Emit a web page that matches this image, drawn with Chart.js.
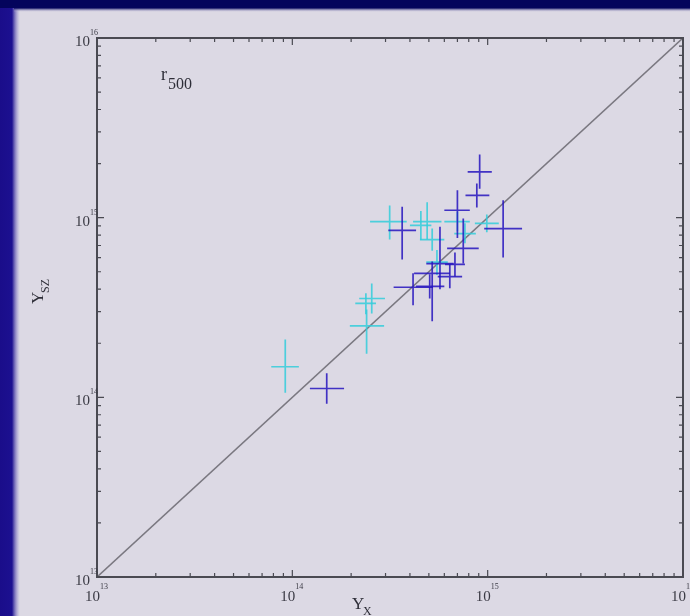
<!DOCTYPE html>
<html>
<head>
<meta charset="utf-8">
<script src="https://cdn.jsdelivr.net/npm/chart.js@4.4.1/dist/chart.umd.min.js"></script>
<style>
  html, body { margin: 0; padding: 0; background: #0a0a66; }
  #wrap { width: 690px; height: 616px; }
</style>
</head>
<body>
<div id="wrap"><canvas id="chart" width="690" height="616"></canvas></div>
<script>
// axis range and decade labels
const decades = [13, 14, 15, 16];

// blue clusters: Y_X, Y_SZ and error bar ends
const blueX   = [9.1e14, 8.8e14, 7.0e14, 3.65e14, 1.2e15, 7.5e14, 6.8e14, 5.2e14, 4.15e14, 5.05e14, 5.7e14, 6.4e14, 1.5e14];
const blueXLo = [7.9e14, 7.7e14, 6.0e14, 3.1e14, 9.6e14, 6.2e14, 6.05e14, 4.2e14, 3.3e14, 4.3e14, 4.85e14, 5.55e14, 1.23e14];
const blueXHi = [1.05e15, 1.02e15, 8.1e14, 4.3e14, 1.5e15, 9.0e14, 7.65e14, 6.4e14, 5.25e14, 6.0e14, 6.7e14, 7.4e14, 1.84e14];
const blueY   = [1.8e15, 1.33e15, 1.1e15, 8.5e14, 8.7e14, 6.75e14, 5.5e14, 4.9e14, 4.1e14, 4.15e14, 5.55e14, 4.7e14, 1.12e14];
const blueYLo = [1.45e15, 1.14e15, 7.7e14, 5.85e14, 6.0e14, 5.55e14, 4.7e14, 2.65e14, 3.25e14, 3.55e14, 4.0e14, 4.05e14, 9.2e13];
const blueYHi = [2.25e15, 1.55e15, 1.42e15, 1.15e15, 1.25e15, 9.9e14, 6.4e14, 5.7e14, 4.9e14, 4.85e14, 8.9e14, 5.5e14, 1.36e14];

// cyan clusters
const cyanX   = [9.2e13, 2.4e14, 2.55e14, 2.38e14, 3.15e14, 4.9e14, 4.55e14, 5.2e14, 7.0e14, 9.9e14, 7.65e14, 5.5e14];
const cyanXLo = [7.8e13, 1.97e14, 2.2e14, 2.1e14, 2.5e14, 4.15e14, 4.0e14, 4.5e14, 6.0e14, 8.6e14, 6.75e14, 4.85e14];
const cyanXHi = [1.08e14, 2.95e14, 2.98e14, 2.68e14, 3.85e14, 5.8e14, 5.15e14, 6.0e14, 8.1e14, 1.14e15, 8.7e14, 6.25e14];
const cyanY   = [1.48e14, 2.5e14, 3.55e14, 3.33e14, 9.5e14, 9.5e14, 9.05e14, 7.55e14, 9.5e14, 9.3e14, 8.15e14, 5.65e14];
const cyanYLo = [1.06e14, 1.75e14, 2.93e14, 2.9e14, 7.55e14, 7.55e14, 7.5e14, 6.55e14, 8.4e14, 8.3e14, 7.2e14, 4.8e14];
const cyanYHi = [2.1e14, 3.08e14, 4.3e14, 3.8e14, 1.17e15, 1.22e15, 1.09e15, 8.7e14, 1.08e15, 1.04e15, 9.3e14, 6.6e14];

const SERIF = '"Liberation Serif", "DejaVu Serif", serif';
const BLUE = "rgba(38, 20, 190, 0.85)";
const CYAN = "rgba(50, 205, 218, 0.85)";

function makePoints(xs, ys, xlo, xhi, ylo, yhi) {
  return xs.map((x, i) => ({ x: x, y: ys[i], xlo: xlo[i], xhi: xhi[i], ylo: ylo[i], yhi: yhi[i] }));
}

// page background: navy frame with light slide area
const slideBg = {
  id: "slideBg",
  beforeDraw(chart) {
    const ctx = chart.ctx;
    ctx.save();
    ctx.fillStyle = "#dcd9e4";
    ctx.fillRect(0, 0, chart.width, chart.height);
    let g = ctx.createLinearGradient(0, 0, 20, 0);
    g.addColorStop(0, "#1a0d8a");
    g.addColorStop(0.6, "#1c1090");
    g.addColorStop(1, "rgba(150,140,210,0)");
    ctx.fillStyle = g;
    ctx.fillRect(0, 0, 20, chart.height);
    ctx.fillStyle = "#04045c";
    ctx.fillRect(0, 0, chart.width, 8);
    g = ctx.createLinearGradient(0, 8, 0, 12);
    g.addColorStop(0, "#04045c");
    g.addColorStop(1, "rgba(200,196,225,0)");
    ctx.fillStyle = g;
    ctx.fillRect(14, 8, chart.width, 4);
    ctx.restore();
  }
};

// error-bar crosses, frame, log ticks and labels
const decor = {
  id: "decor",
  afterDatasetsDraw(chart) {
    const ctx = chart.ctx;
    const xs = chart.scales.x, ys = chart.scales.y;
    const a = chart.chartArea;

    ctx.save();
    ctx.filter = "blur(0.7px)";
    ctx.lineWidth = 1.7;
    chart.data.datasets.forEach(ds => {
      if (!ds.crosses) return;
      ctx.strokeStyle = ds.borderColor;
      ds.data.forEach(p => {
        const px = xs.getPixelForValue(p.x), py = ys.getPixelForValue(p.y);
        ctx.beginPath();
        ctx.moveTo(xs.getPixelForValue(p.xlo), py);
        ctx.lineTo(xs.getPixelForValue(p.xhi), py);
        ctx.moveTo(px, ys.getPixelForValue(p.ylo));
        ctx.lineTo(px, ys.getPixelForValue(p.yhi));
        ctx.stroke();
      });
    });
    ctx.restore();

    ctx.save();
    ctx.strokeStyle = "#4a4a52";
    ctx.lineWidth = 1.2;
    // minor and major ticks on all four sides
    for (let d = 13; d < 16; d++) {
      for (let m = 1; m <= 9; m++) {
        const v = m * Math.pow(10, d);
        const len = m === 1 ? 7 : 4;
        const px = xs.getPixelForValue(v), py = ys.getPixelForValue(v);
        ctx.beginPath();
        ctx.moveTo(px, a.bottom); ctx.lineTo(px, a.bottom - len);
        ctx.moveTo(px, a.top); ctx.lineTo(px, a.top + len);
        ctx.moveTo(a.left, py); ctx.lineTo(a.left + len, py);
        ctx.moveTo(a.right, py); ctx.lineTo(a.right - len, py);
        ctx.stroke();
      }
    }
    ctx.lineWidth = 2;
    ctx.strokeRect(a.left, a.top, a.right - a.left, a.bottom - a.top);

    // tick labels 10^n
    ctx.fillStyle = "#3a3a44";
    decades.forEach(n => {
      const v = Math.pow(10, n);
      const px = xs.getPixelForValue(v), py = ys.getPixelForValue(v);
      // x axis
      ctx.font = "15px " + SERIF;
      ctx.textAlign = "left";
      ctx.textBaseline = "alphabetic";
      ctx.fillText("10", px - 12, a.bottom + 24);
      ctx.font = "8px " + SERIF;
      ctx.fillText(String(n), px + 3, a.bottom + 12);
      // y axis
      ctx.font = "15px " + SERIF;
      ctx.fillText("10", a.left - 22, py + 8);
      ctx.font = "8px " + SERIF;
      ctx.fillText(String(n), a.left - 7, py - 3);
    });

    // axis titles
    ctx.fillStyle = "#2e2e38";
    ctx.font = "17px " + SERIF;
    ctx.fillText("Y", 352, 609);
    ctx.font = "12px " + SERIF;
    ctx.fillText("X", 363, 615);
    ctx.save();
    ctx.translate(43, 304);
    ctx.rotate(-Math.PI / 2);
    ctx.font = "17px " + SERIF;
    ctx.fillText("Y", 0, 0);
    ctx.font = "12px " + SERIF;
    ctx.fillText("SZ", 11, 6);
    ctx.restore();

    // radius label
    ctx.font = "18px " + SERIF;
    ctx.fillText("r", 161, 80);
    ctx.font = "16px " + SERIF;
    ctx.fillText("500", 168, 89);
    ctx.restore();
  }
};

new Chart(document.getElementById("chart"), {
  type: "scatter",
  data: {
    datasets: [
      {
        type: "line",
        data: [{ x: 1e13, y: 1e13 }, { x: 1e16, y: 1e16 }],
        borderColor: "#7a7880",
        borderWidth: 1.6,
        pointRadius: 0,
        fill: false
      },
      {
        crosses: true,
        data: makePoints(cyanX, cyanY, cyanXLo, cyanXHi, cyanYLo, cyanYHi),
        borderColor: CYAN,
        backgroundColor: CYAN,
        pointRadius: 0
      },
      {
        crosses: true,
        data: makePoints(blueX, blueY, blueXLo, blueXHi, blueYLo, blueYHi),
        borderColor: BLUE,
        backgroundColor: BLUE,
        pointRadius: 0
      }
    ]
  },
  options: {
    responsive: false,
    animation: false,
    layout: { padding: { left: 97, right: 7, top: 38, bottom: 39 } },
    plugins: { legend: { display: false }, tooltip: { enabled: false } },
    scales: {
      x: {
        type: "logarithmic", min: 1e13, max: 1e16,
        ticks: { display: false },
        grid: { display: false, drawTicks: false },
        border: { display: false }
      },
      y: {
        type: "logarithmic", min: 1e13, max: 1e16,
        ticks: { display: false },
        grid: { display: false, drawTicks: false },
        border: { display: false }
      }
    }
  },
  plugins: [slideBg, decor]
});
</script>
</body>
</html>
